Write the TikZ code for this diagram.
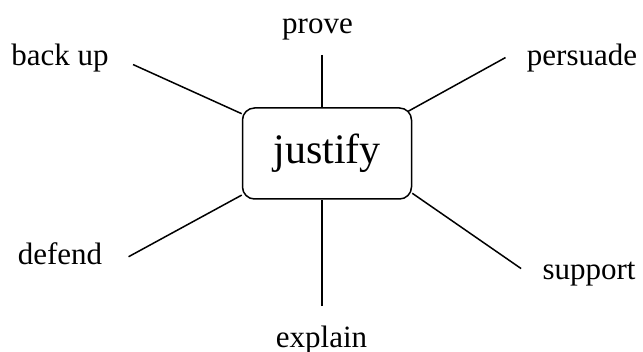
\documentclass[tikz,border=0pt]{standalone}
\usepackage{fontspec}
\setmainfont{Liberation Serif}
\usepackage{tikz}
\usetikzlibrary{calc}
\tikzset{
  word/.style={font=\fontsize{15.5}{18}\selectfont, inner sep=0pt, anchor=base},
  hub/.style={rectangle, rounded corners=6pt, draw=black, line width=0.75pt, minimum width=84.5pt, minimum height=45.5pt, font=\fontsize{21}{25}\selectfont},
  spoke/.style={line width=0.75pt},
}
\begin{document}
\begin{tikzpicture}[x=0.5pt,y=-0.5pt]
  \useasboundingbox (0,0) rectangle (643,352);
  \node[hub] (just) at (327,153.5) {justify};
  \node[word] (backup) at (60,66) {back up};
  \node[word] (prove) at (317.5,34) {prove};
  \node[word] (persuade) at (582,66) {persuade};
  \node[word] (defend) at (60,265) {defend};
  \node[word] (explain) at (321.5,348) {explain};
  \node[word] (support) at (589,280) {support};
  \coordinate (prove-tip) at ($(prove.south)+(4.5,14)$);
  \coordinate (explain-tip) at ($(explain.north)+(0.5,-20)$);
  \draw[spoke] ($(backup.east)+(24,6)$) -- (just.155);
  \draw[spoke] (prove-tip) -- (prove-tip |- just.north);
  \draw[spoke] ($(persuade.west)+(-21,-1)$) -- ($(just.north east)+(-4,4)$);
  \draw[spoke] ($(defend.east)+(26,2.5)$) -- (just.206);
  \draw[spoke] (explain-tip) -- (explain-tip |- just.south);
  \draw[spoke] ($(support.west)+(-21,-6)$) -- (just.335);
\end{tikzpicture}
\end{document}
